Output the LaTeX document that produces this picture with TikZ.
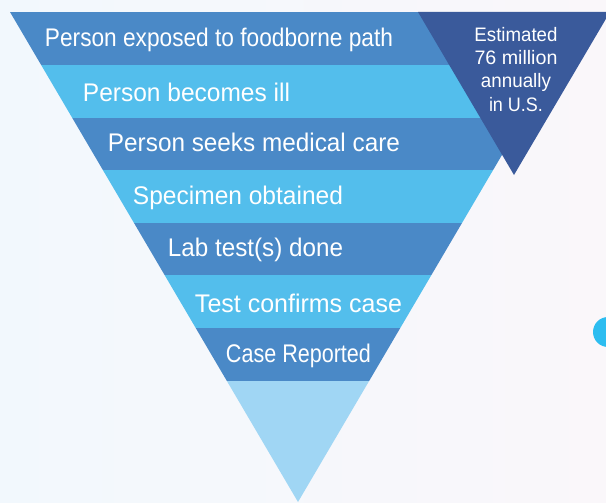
\documentclass[tikz,border=0pt]{standalone}
\usepackage{fontspec}
\setmainfont{Liberation Sans}
\usepackage{graphicx}
\definecolor{bgL}{HTML}{F2F8FD}
\definecolor{bgR}{HTML}{FAF7FA}
\definecolor{bandDark}{HTML}{4A89C7}
\definecolor{bandLight}{HTML}{53BEEC}
\definecolor{bandBottom}{HTML}{A0D6F4}
\definecolor{triDark}{HTML}{3A5A9B}
\definecolor{dotCyan}{HTML}{2DBDF0}
\newcommand{\fitw}[2]{\resizebox{#1}{\height}{#2}}
\begin{document}
\begin{tikzpicture}[x=1pt,y=-1pt,
  bandtext/.style={font=\fontsize{25.5}{30}\selectfont, text=white, anchor=base, inner sep=0pt},
  tritext/.style={font=\fontsize{19.5}{23}\selectfont, text=white, anchor=base, inner sep=0pt}]
\useasboundingbox (0,0) rectangle (606,503);
\shade[left color=bgL, right color=bgR] (0,0) rectangle (606,503);
\begin{scope}
  \clip (10,12) -- (586,12) -- (298,502) -- cycle;
  \fill[bandDark]   (0,12)  rectangle (606,65);
  \fill[bandLight]  (0,65)  rectangle (606,118);
  \fill[bandDark]   (0,118) rectangle (606,170);
  \fill[bandLight]  (0,170) rectangle (606,223);
  \fill[bandDark]   (0,223) rectangle (606,275);
  \fill[bandLight]  (0,275) rectangle (606,328);
  \fill[bandDark]   (0,328) rectangle (606,381);
  \fill[bandBottom] (0,381) rectangle (606,503);
\end{scope}
\fill[triDark] (418,12) -- (610,12) -- (514,175) -- cycle;
\fill[dotCyan] (608,332) circle[radius=15pt];
\node[bandtext] (t1) at (219,46.7) {\fitw{348pt}{Person exposed to foodborne path}};
\node[bandtext] (t2) at (186.5,101.5) {\fitw{207pt}{Person becomes ill}};
\node[bandtext] (t3) at (254,151.5) {\fitw{292pt}{Person seeks medical care}};
\node[bandtext] (t4) at (238,204.5) {\fitw{210pt}{Specimen obtained}};
\node[bandtext] (t5) at (255.5,256) {\fitw{175pt}{Lab test(s) done}};
\node[bandtext] (t6) at (298.5,312) {\fitw{207pt}{Test confirms case}};
\node[bandtext] (t7) at (298.5,362) {\fitw{145pt}{Case Reported}};
\node[tritext] (e1) at (516,42) {\fitw{83pt}{Estimated}};
\node[tritext] (e2) at (516,65) {\fitw{83pt}{76 million}};
\node[tritext] (e3) at (516,88) {\fitw{70pt}{annually}};
\node[tritext] (e4) at (516,111.5) {\fitw{54pt}{in U.S.}};
\end{tikzpicture}
\end{document}
